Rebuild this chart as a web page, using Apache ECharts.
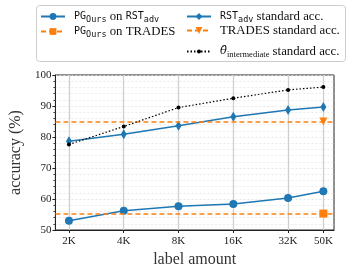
<!DOCTYPE html>
<html><head><meta charset="utf-8">
<script src="https://cdn.jsdelivr.net/npm/echarts@6/dist/echarts.min.js"></script>
<style>html,body{margin:0;padding:0;background:#fff}#c{width:351px;height:273px}</style>
</head><body><div id="c"></div>
<script>
const labelAmounts = [2000, 4000, 8000, 16000, 32000, 50000];
const tickLabels = ['2K', '4K', '8K', '16K', '32K', '50K'];
const pgOnRst = [53.0, 56.2, 57.7, 58.4, 60.3, 62.5];
const rstStandard = [78.6, 80.9, 83.6, 86.5, 88.7, 89.7];
const intermediateStandard = [77.6, 83.4, 89.5, 92.5, 95.2, 96.1];
const pgOnTrades = 55.3;
const tradesStandard = 85.0;
const tradesAt = 50000;

const SERIF = 'Liberation Serif';
const MONO = 'DejaVu Sans Mono';
const BLUE = '#1f77b4', ORANGE = '#ff7f0e';

const zip = (xs, ys) => xs.map((x, i) => [x, ys[i]]);
const tickMap = {};
labelAmounts.forEach((v, i) => tickMap[v] = tickLabels[i]);

const rich = {
  m: {fontFamily: MONO, fontSize: 10, color: '#111', lineHeight: 14},
  ms: {fontFamily: MONO, fontSize: 8.5, color: '#111', padding: [6, 0, 0, 0], lineHeight: 10},
  s: {fontFamily: SERIF, fontSize: 12.8, color: '#111', lineHeight: 14},
  sub: {fontFamily: SERIF, fontSize: 8.5, color: '#111', padding: [6, 0, 0, 0], lineHeight: 10},
  th: {fontFamily: 'DejaVu Serif', fontSize: 11.5, fontStyle: 'italic', color: '#111', lineHeight: 14}
};
const legendText = {
  pgrst: '{m|PG}{ms|Ours}{s| on }{m|RST}{ms|adv}',
  pgtr: '{m|PG}{ms|Ours}{s| on TRADES}',
  rst: '{m|RST}{ms|adv}{s| standard acc.}',
  tr: '{s|TRADES standard acc.}',
  th: '{th|θ\u0302}{sub|intermediate}{s| standard acc.}'
};
const legendBase = {orient: 'vertical', padding: 0, itemWidth: 24, itemHeight: 8.5, itemGap: 0,
  formatter: n => legendText[n], textStyle: {rich, padding: [0, 0, 0, 4]}, z: 5};

const chart = echarts.init(document.getElementById('c'));
chart.setOption({
  animation: false,
  grid: {left: 46, right: 17, top: 75, bottom: 37, show: true, borderColor: '#222', borderWidth: 1, backgroundColor: 'transparent'},
  graphic: [{type: 'rect', left: 36, top: 5, shape: {width: 309, height: 56, r: 3},
    style: {fill: '#fff', stroke: '#cccccc', lineWidth: 1}, z: 0}],
  legend: [
    Object.assign({}, legendBase, {data: ['pgrst', 'pgtr'], left: 40, top: 9}),
    Object.assign({}, legendBase, {data: ['rst', 'tr'], left: 186, top: 9}),
    Object.assign({}, legendBase, {data: ['th'], left: 186, top: 44, itemHeight: 5})
  ],
  xAxis: {
    type: 'log', logBase: 2, min: 1685, max: 57200,
    axisLine: {show: true, lineStyle: {color: '#222', width: 1}},
    axisTick: {show: true, customValues: labelAmounts, length: 3, lineStyle: {color: '#222'}},
    axisLabel: {customValues: labelAmounts, formatter: v => tickMap[v] || '', fontFamily: SERIF, fontSize: 11, color: '#222', margin: 6},
    splitLine: {show: true, lineStyle: {color: '#cfcfcf', width: 1.3}},
    minorTick: {show: false},
    name: 'label amount', nameLocation: 'middle', nameGap: 22,
    nameTextStyle: {fontFamily: SERIF, fontSize: 16, color: '#333'}
  },
  yAxis: {
    type: 'value', min: 50, max: 100, interval: 10,
    axisLine: {show: true, lineStyle: {color: '#222', width: 1}},
    axisTick: {show: true, length: 3, lineStyle: {color: '#222'}},
    minorTick: {show: true, splitNumber: 5, length: 2, lineStyle: {color: '#444'}},
    minorSplitLine: {show: true, lineStyle: {color: '#e6e6e6', type: [2, 2], width: 0.8}},
    splitLine: {show: true, lineStyle: {color: '#e0e0e0', type: [2, 2], width: 0.8}},
    axisLabel: {fontFamily: SERIF, fontSize: 11, color: '#222', margin: 4},
    name: 'accuracy (%)', nameLocation: 'middle', nameGap: 25,
    nameTextStyle: {fontFamily: SERIF, fontSize: 16, color: '#333'}
  },
  series: [
    {name: 'pgrst', type: 'line', data: zip(labelAmounts, pgOnRst), symbol: 'circle', symbolSize: 8,
     itemStyle: {color: BLUE}, lineStyle: {color: BLUE, width: 1.5}, z: 4},
    {name: 'pgtr', type: 'line', data: [[tradesAt, pgOnTrades]], symbol: 'rect', symbolSize: 8,
     itemStyle: {color: ORANGE}, lineStyle: {color: ORANGE, width: 1.5, type: [5, 3]},
     markLine: {silent: true, symbol: 'none', label: {show: false},
       lineStyle: {color: ORANGE, width: 1.5, type: [5, 3]}, data: [{yAxis: pgOnTrades}]}, z: 3},
    {name: 'rst', type: 'line', data: zip(labelAmounts, rstStandard), symbol: 'diamond', symbolSize: [6, 10],
     itemStyle: {color: BLUE}, lineStyle: {color: BLUE, width: 1.5}, z: 4},
    {name: 'tr', type: 'line', data: [[tradesAt, tradesStandard]], symbol: 'triangle', symbolRotate: 180, symbolSize: 8,
     itemStyle: {color: ORANGE}, lineStyle: {color: ORANGE, width: 1.5, type: [5, 3]},
     markLine: {silent: true, symbol: 'none', label: {show: false},
       lineStyle: {color: ORANGE, width: 1.5, type: [5, 3]}, data: [{yAxis: tradesStandard}]}, z: 3},
    {name: 'th', type: 'line', data: zip(labelAmounts, intermediateStandard), symbol: 'circle', symbolSize: 4,
     itemStyle: {color: '#000'}, lineStyle: {color: '#000', width: 1.2, type: [1.5, 2]}, z: 5}
  ]
});
</script></body></html>
